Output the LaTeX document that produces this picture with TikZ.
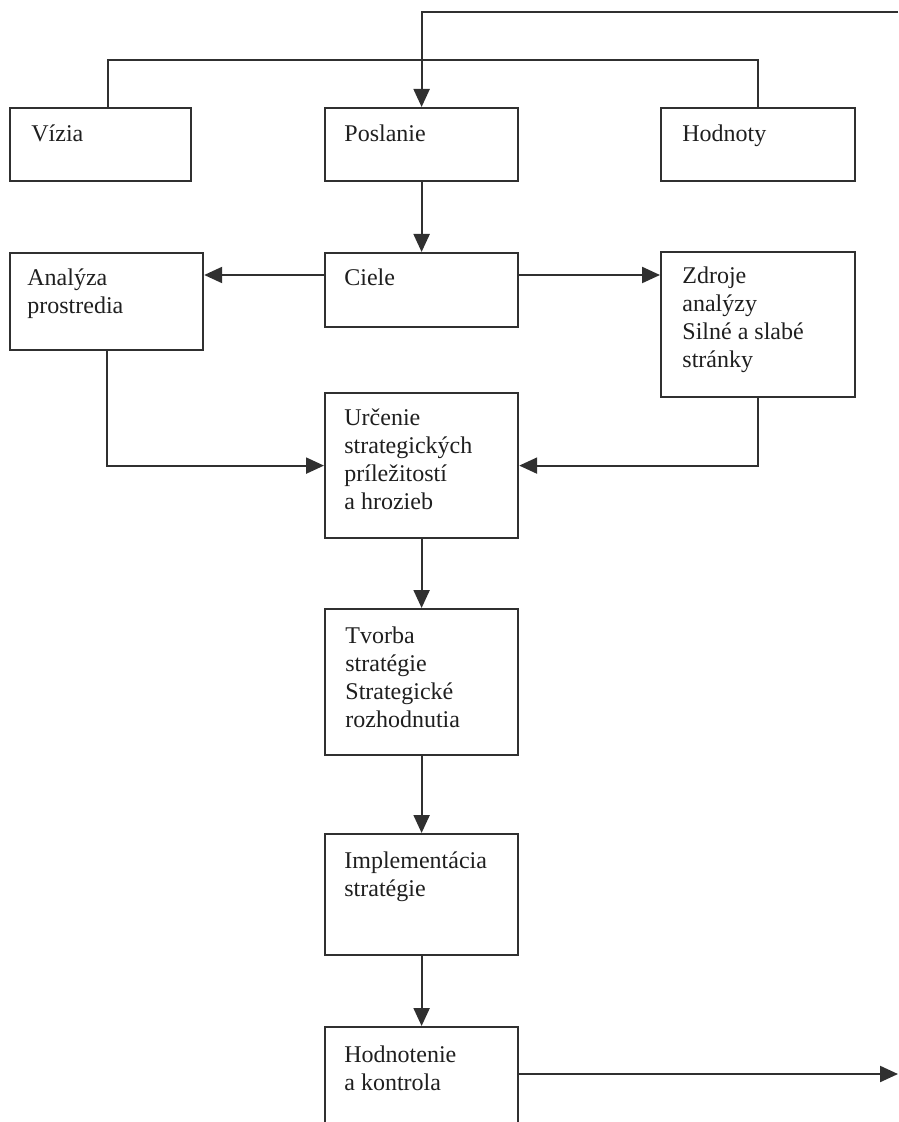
\documentclass[tikz,border=0pt]{standalone}
\usepackage{fontspec}
\setmainfont{Liberation Serif}
\usepackage{xcolor}
\definecolor{ink}{RGB}{48,48,48}
\usetikzlibrary{arrows.meta}
\tikzset{
  blk/.style={draw=ink,rectangle,anchor=north west,inner sep=0pt,line width=1.1pt},
  txt/.style={anchor=north west,align=left,inner sep=0pt,text=black!88,font=\fontsize{12}{14}\selectfont},
  conn/.style={draw=ink,line width=1.1pt}
}

\begin{document}
\begin{tikzpicture}[x=0.5pt,y=-0.5pt,>={Triangle[length=9pt,width=8pt]}]
\useasboundingbox (0,0) rectangle (898,1122);
\clip (0,0) rectangle (898,1122);
\fill[white] (0,0) rectangle (898,1122);

%top row
\node (vizia) at (9,107) [blk,minimum width=90.5pt,minimum height=36.5pt] {};
\node (poslanie) at (324,107) [blk,minimum width=96.5pt,minimum height=36.5pt] {};
\node (hodnoty) at (660,107) [blk,minimum width=97pt,minimum height=36.5pt] {};

%second row
\node (analyza) at (9,252) [blk,minimum width=96.5pt,minimum height=48.5pt] {};
\node (ciele) at (324,252) [blk,minimum width=96.5pt,minimum height=37pt] {};
\node (zdroje) at (660,251) [blk,minimum width=97pt,minimum height=72.5pt] {};

%middle column
\node (urcenie) at (324,392) [blk,minimum width=96.5pt,minimum height=72.5pt] {};
\node (tvorba) at (324,608) [blk,minimum width=96.5pt,minimum height=73pt] {};
\node (impl) at (324,833) [blk,minimum width=96.5pt,minimum height=60.5pt] {};
\node (hodn) at (324,1026) [blk,minimum width=96.5pt,minimum height=62pt] {};

%labels
\node (vizia-t) at ([xshift=11pt,yshift=-7.2pt]vizia.north west) [txt] {\strut V\'izia};
\node (poslanie-t) at ([xshift=10pt,yshift=-7.2pt]poslanie.north west) [txt] {\strut Poslanie};
\node (hodnoty-t) at ([xshift=11pt,yshift=-7.2pt]hodnoty.north west) [txt] {\strut Hodnoty};
\node (analyza-t) at ([xshift=9pt,yshift=-7pt]analyza.north west) [txt] {\strut Anal\'yza\\prostredia};
\node (ciele-t) at ([xshift=10pt,yshift=-7pt]ciele.north west) [txt] {\strut Ciele};
\node (zdroje-t) at ([xshift=11pt,yshift=-6.5pt]zdroje.north west) [txt] {\strut Zdroje\\anal\'yzy\\Siln\'e a slab\'e\\str\'anky};
\node (urcenie-t) at ([xshift=10pt,yshift=-6.8pt]urcenie.north west) [txt] {\strut Ur\v{c}enie\\strategick\'ych\\pr\'ile\v{z}itost\'i\\a hrozieb};
\node (tvorba-t) at ([xshift=10.5pt,yshift=-7.5pt]tvorba.north west) [txt] {\strut Tvorba\\strat\'egie\\Strategick\'e\\rozhodnutia};
\node (impl-t) at ([xshift=10pt,yshift=-7.5pt]impl.north west) [txt] {\strut Implement\'acia\\strat\'egie};
\node (hodn-t) at ([xshift=10pt,yshift=-8pt]hodn.north west) [txt] {\strut Hodnotenie\\a kontrola};

%feedback into the top and the bar over the first row
\coordinate (in) at (898,12);
\coordinate (bar) at (421,60);
\coordinate (vtop) at ([xshift=3.5pt]vizia.north);
\draw [conn,->] (in) -| (poslanie);
\draw [conn] (vtop) |- (bar) -| (hodnoty.north);

%from the goals to both analyses
\draw [conn,->] (poslanie) -- (ciele);
\coordinate (cl) at ([yshift=-11.5pt]ciele.north west);
\coordinate (cr) at ([yshift=-11.5pt]ciele.north east);
\draw [conn,->] (cl) -- (cl -| analyza.east);
\draw [conn,->] (cr) -- (cr -| zdroje.west);
\draw [conn,->] (analyza) |- (urcenie);
\draw [conn,->] (zdroje) |- (urcenie);

%chain down the middle
\foreach \a/\b in {urcenie/tvorba,tvorba/impl,impl/hodn}{
    \draw [conn,->] (\a) -- (\b);
}
\coordinate (out) at (898,1074);
\draw [conn,->] (hodn.east |- out) -- (out);
\end{tikzpicture}
\end{document}
